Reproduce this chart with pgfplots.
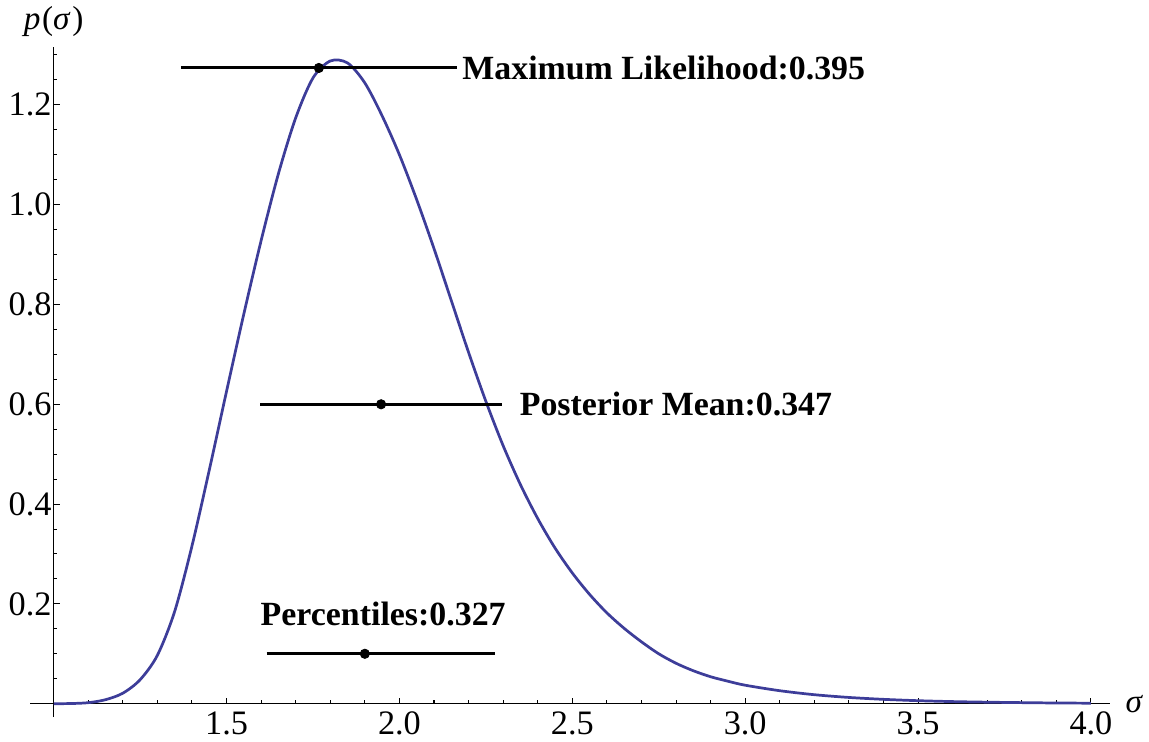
\documentclass[border=0pt]{standalone}
\usepackage{fontspec}
\setmainfont{Liberation Serif}
\usepackage{pgfplots}
\pgfplotsset{compat=1.18}

\definecolor{CurveBlue}{rgb}{0.24,0.24,0.6}

\begin{document}
\begin{tikzpicture}
\begin{axis}[
  x=171.5pt, y=247.5pt,
  xmin=1, xmax=4.055,
  ymin=-0.027, ymax=1.316,
  axis x line=middle,
  axis y line=left,
  axis line style={-, line width=0.6pt},
  clip=false,
  xtick={1.5,2,2.5,3,3.5,4},
  xticklabels={\textrm{1.5},\textrm{2.0},\textrm{2.5},\textrm{3.0},\textrm{3.5},\textrm{4.0}},
  minor xtick={1.1,1.2,1.3,1.4,1.6,1.7,1.8,1.9,2.1,2.2,2.3,2.4,2.6,2.7,2.8,2.9,3.1,3.2,3.3,3.4,3.6,3.7,3.8,3.9},
  ytick={0.2,0.4,0.6,0.8,1.0,1.2},
  yticklabels={\textrm{0.2},\textrm{0.4},\textrm{0.6},\textrm{0.8},\textrm{1.0},\textrm{1.2}},
  minor ytick={0.05,0.1,0.15,0.25,0.3,0.35,0.45,0.5,0.55,0.65,0.7,0.75,0.85,0.9,0.95,1.05,1.1,1.15,1.25,1.3},
  major tick length=3pt,
  minor tick length=1.8pt,
  tick style={black, line width=0.5pt},
  tick label style={font=\rmfamily\fontsize{17}{20}\selectfont},
  xticklabel style={yshift=-0.5pt},
  yticklabel style={xshift=2.5pt},
  /pgf/number format/assume math mode=true,
  xtick align=inside,
  ytick align=inside,
]
% posterior density p(sigma)
\addplot[CurveBlue, line width=1.35pt, mark=none, smooth] coordinates {
  (1.00,0) (1.05,0.0003) (1.10,0.002) (1.15,0.008) (1.20,0.021)
  (1.25,0.048) (1.30,0.097) (1.35,0.185) (1.40,0.316) (1.45,0.468)
  (1.50,0.626) (1.55,0.781) (1.60,0.928) (1.65,1.062) (1.70,1.174)
  (1.75,1.254) (1.80,1.288) (1.85,1.284) (1.90,1.244) (1.95,1.178)
  (2.00,1.100) (2.05,1.010) (2.10,0.912) (2.15,0.808) (2.20,0.704)
  (2.25,0.606) (2.30,0.517) (2.35,0.439) (2.40,0.371) (2.45,0.312)
  (2.50,0.262) (2.55,0.219) (2.60,0.182) (2.65,0.151) (2.70,0.124)
  (2.75,0.100) (2.80,0.081) (2.85,0.066) (2.90,0.054) (2.95,0.045)
  (3.00,0.037) (3.10,0.026) (3.20,0.018) (3.30,0.0125) (3.40,0.0087)
  (3.50,0.006) (3.60,0.0042) (3.70,0.003) (3.80,0.0021) (3.90,0.0014)
  (4.00,0.001)
};
% interval bars
\addplot[black, line width=1.5pt, mark=none] coordinates {(1.368,1.274) (2.167,1.274)};
\addplot[black, line width=1.5pt, mark=none] coordinates {(1.597,0.6) (2.297,0.6)};
\addplot[black, line width=1.5pt, mark=none] coordinates {(1.616,0.1) (2.277,0.1)};
\addplot[only marks, mark=*, mark size=2.3pt, black] coordinates {
  (1.767,1.274) (1.947,0.6) (1.900,0.1)
};

\draw[line width=0.6pt] (axis cs:0.933,0) -- (axis cs:1,0);

\node[anchor=base, font=\fontsize{16.5}{19}\selectfont] at (axis cs:1,1.3505) {\textit{p}\kern0.8pt(\textit{σ}\kern0.8pt)};
\node[anchor=west, inner sep=0pt, xshift=7.5pt, font=\fontsize{16.5}{19}\selectfont] at (axis cs:4.055,0) {\textit{σ}};

\node[anchor=west, inner sep=0pt, font=\bfseries\fontsize{16.8}{20}\selectfont] at (axis cs:2.181,1.274) {Maximum Likelihood:0.395};
\node[anchor=west, inner sep=0pt, font=\bfseries\fontsize{16.8}{20}\selectfont] at (axis cs:2.347,0.6) {Posterior Mean:0.347};
\node[anchor=base, inner sep=0pt, font=\bfseries\fontsize{16.8}{20}\selectfont] at (axis cs:1.953,0.157) {Percentiles:0.327};
\end{axis}
\path (current bounding box.south west) +(-1pt,0pt) (current bounding box.north east) +(3pt,0pt);
\end{tikzpicture}
\end{document}
